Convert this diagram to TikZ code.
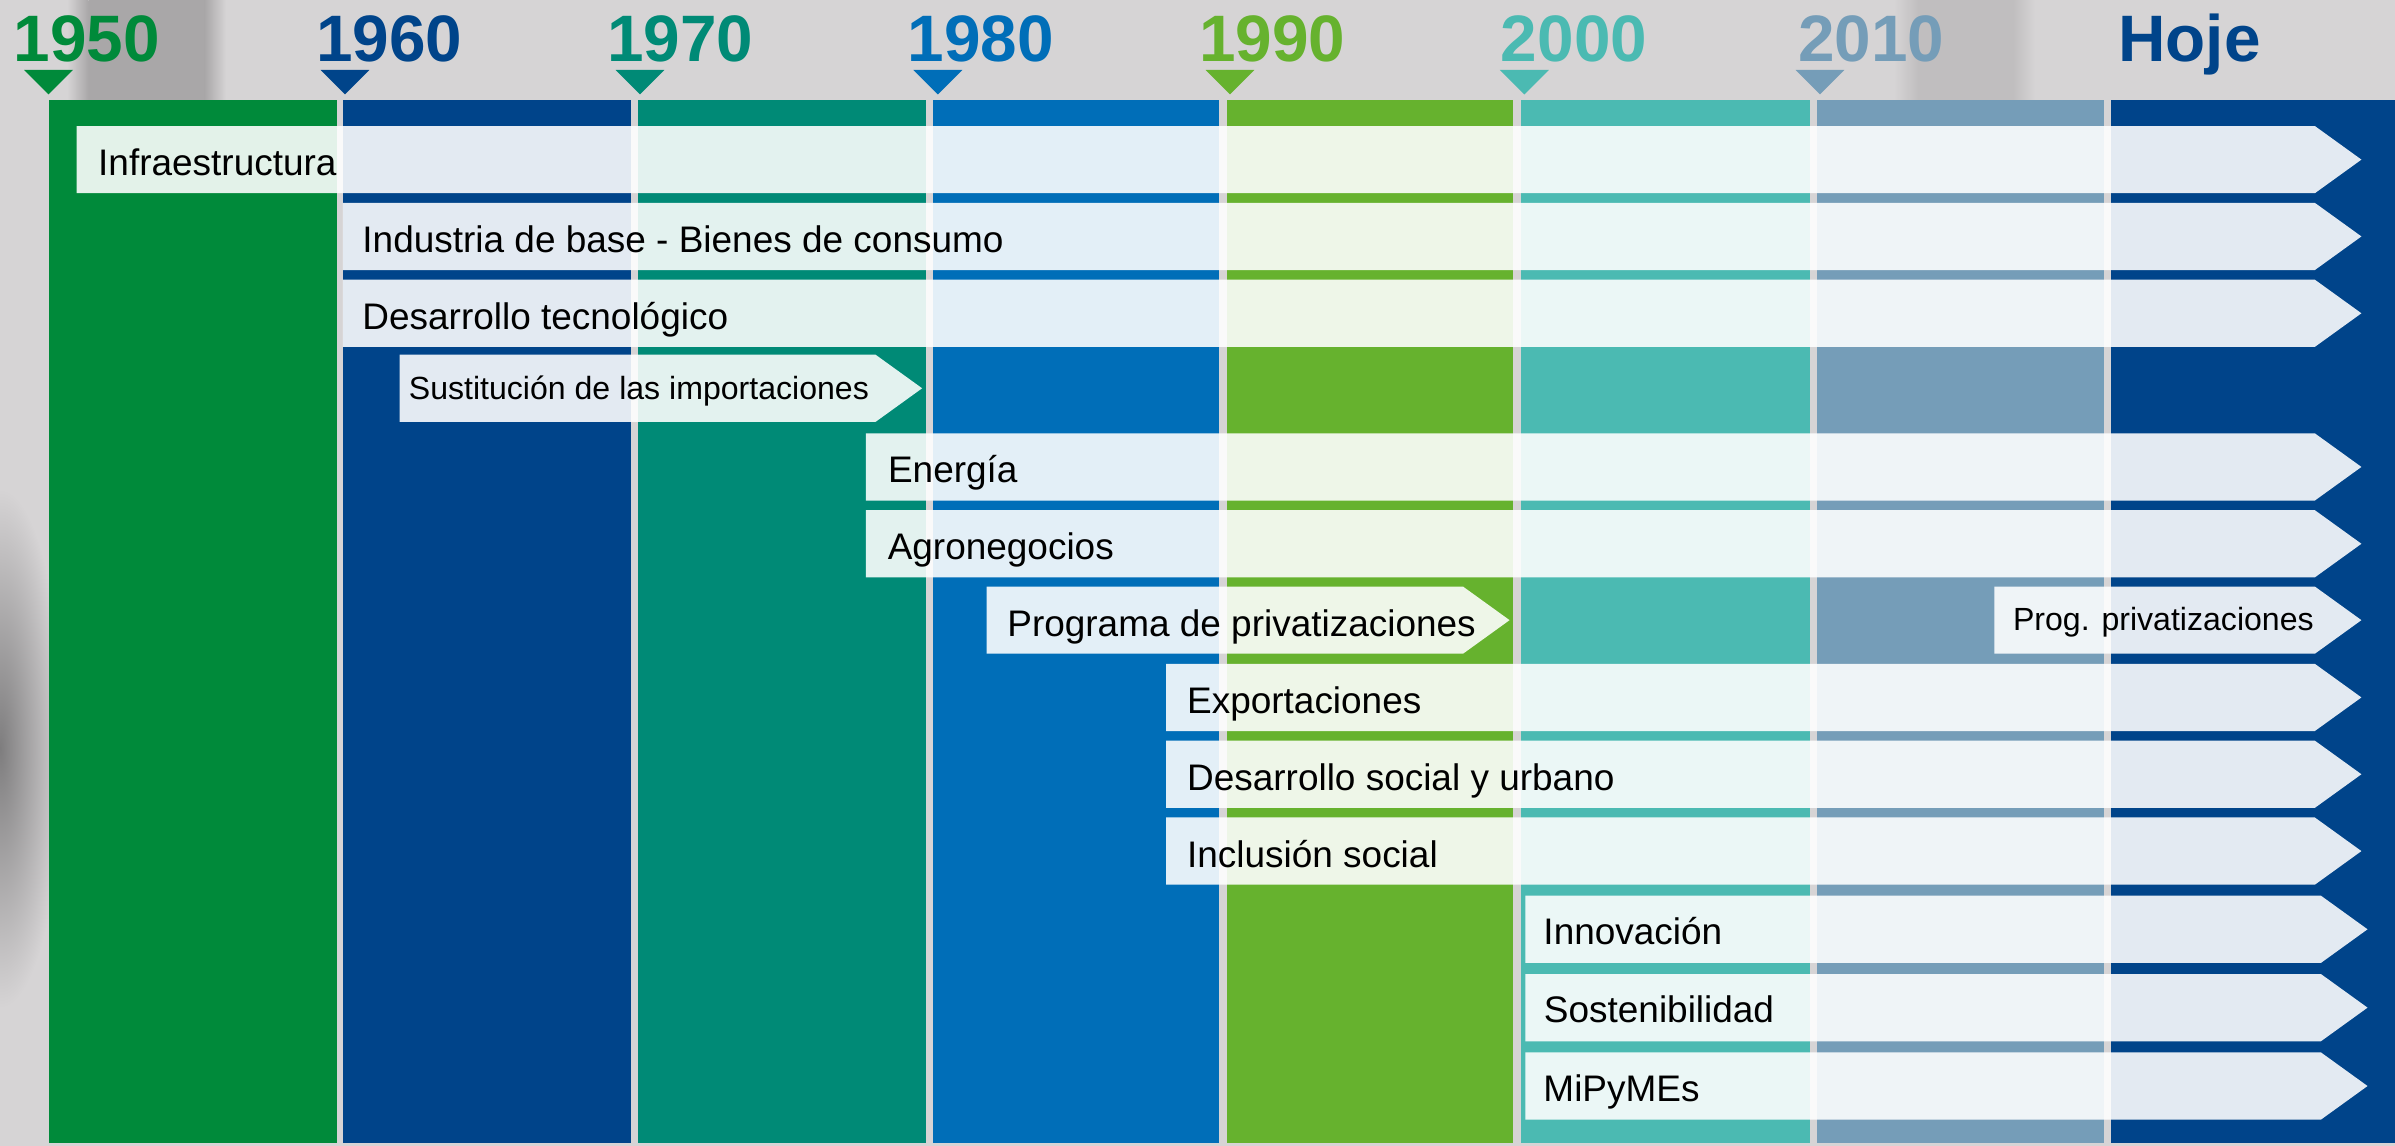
\documentclass[tikz,border=0pt]{standalone}
\usepackage{fontspec}
\setmainfont{Liberation Sans}
\usetikzlibrary{calc}

\definecolor{bggray}{HTML}{D6D4D5}
\definecolor{bgdark}{HTML}{A9A7A8}
\definecolor{bgmid}{HTML}{C0BEBF}
\definecolor{bgdeep}{HTML}{7E7D7E}
\definecolor{c1950}{HTML}{008A3A}
\definecolor{c1960}{HTML}{00448A}
\definecolor{c1970}{HTML}{008A76}
\definecolor{c1980}{HTML}{006EB8}
\definecolor{c1990}{HTML}{66B22E}
\definecolor{c2000}{HTML}{4BBAB2}
\definecolor{c2010}{HTML}{759DB8}

\tikzset{
	tagfill/.style={fill=white, fill opacity=0.89},
	rowtext/.style={anchor=base west, inner sep=0pt, font=\fontsize{24.2}{26}\selectfont},
	smalltext/.style={anchor=base west, inner sep=0pt, font=\fontsize{21}{23}\selectfont},
	yeartext/.style={anchor=base, inner sep=0pt, font=\fontsize{43}{46}\selectfont\bfseries}
}
\def\tagarrow(#1:#2:#3){\fill[tagfill] (#1,#2) -- ({#3-30.5},#2) -- (#3,{#2+22}) -- ({#3-30.5},{#2+44}) -- (#1,{#2+44}) -- cycle;}
\def\yearmark(#1:#2){\fill[#2] ({#1-16},45.8) -- ({#1+16},45.8) -- (#1,61.8) -- cycle;}

\begin{document}
\begin{tikzpicture}[x=1pt, y=-1pt]
		%%%%% START %%%%%
		\useasboundingbox (0,0) rectangle (1568,750);
		\fill[bggray] (0,0) rectangle (1568,750);
		
		% blurred photo behind
		\shade[left color=bggray, right color=bgdark] (44,0) rectangle (58,65.5);
		\fill[bgdark] (58,0) rectangle (134,65.5);
		\shade[left color=bgdark, right color=bggray] (134,0) rectangle (148,65.5);
		\shade[left color=bggray, right color=bgmid] (1240,0) rectangle (1256,65.5);
		\fill[bgmid] (1256,0) rectangle (1318,65.5);
		\shade[left color=bgmid, right color=bggray] (1318,0) rectangle (1332,65.5);
		\shade[inner color=bgdeep, outer color=bggray] (0,490) ellipse (42 and 170);
		
		% decades
		\fill[c1950] (32, 65.5) rectangle (220.5, 748);
		\fill[c1960] (224.5, 65.5) rectangle (413.3, 748);
		\fill[c1970] (417.7, 65.5) rectangle (606, 748);
		\fill[c1980] (610.5, 65.5) rectangle (798.2, 748);
		\fill[c1990] (803, 65.5) rectangle (990.7, 748);
		\fill[c2000] (995.7, 65.5) rectangle (1184.8, 748);
		\fill[c2010] (1189.5, 65.5) rectangle (1377.5, 748);
		\fill[c1960] (1382, 65.5) rectangle (1568, 748);
		
		\yearmark(31.8:c1950);
		\yearmark(225.9:c1960);
		\yearmark(419:c1970);
		\yearmark(614:c1980);
		\yearmark(805.3:c1990);
		\yearmark(998:c2000);
		\yearmark(1191.5:c2010);
		
		\node[yeartext, text=c1950] (y1950) at (56.9, 40.4) {1950};
		\node[yeartext, text=c1960] (y1960) at (254.8, 40.4) {1960};
		\node[yeartext, text=c1970] (y1970) at (445.3, 40.4) {1970};
		\node[yeartext, text=c1980] (y1980) at (642.2, 40.4) {1980};
		\node[yeartext, text=c1990] (y1990) at (833, 40.4) {1990};
		\node[yeartext, text=c2000] (y2000) at (1030.5, 40.4) {2000};
		\node[yeartext, text=c2010] (y2010) at (1225, 40.4) {2010};
		\node[yeartext, text=c1960] (hoje) at (1433.5, 40.4) {Hoje};
		
		% themes
		\tagarrow(50.1:82.5:1546);
		\tagarrow(224.5:132.8:1546);
		\tagarrow(224.5:183.1:1546);
		\tagarrow(261.6:232.2:603.7);
		\tagarrow(566.8:283.7:1546);
		\tagarrow(566.8:334:1546);
		\tagarrow(646:384:988.3);
		\tagarrow(1305.7:384:1546);
		\tagarrow(763.5:434.6:1546);
		\tagarrow(763.5:484.9:1546);
		\tagarrow(763.5:535.2:1546);
		\tagarrow(998.6:586.4:1550);
		\tagarrow(998.6:637.7:1550);
		\tagarrow(998.6:689:1550);
		
		\node[rowtext] (infra) at (64.1, 115) {Infraestructura};
		\node[rowtext] (industria) at (237.1, 165.3) {Industria de base - Bienes de consumo};
		\node[rowtext] (tecno) at (237.1, 215.6) {Desarrollo tecnológico};
		\node[smalltext] (sustitucion) at (267.5, 261.3) {Sustitución de las importaciones};
		\node[rowtext] (energia) at (581.2, 316.2) {Energía};
		\node[rowtext] (agro) at (581, 366.5) {Agronegocios};
		\node[rowtext] (privat) at (659.3, 416.5) {Programa de privatizaciones};
		\node[smalltext] (progpriv) at (1317.7, 413) {Prog. privatizaciones};
		\node[rowtext] (export) at (777, 467.1) {Exportaciones};
		\node[rowtext] (social) at (777, 517.4) {Desarrollo social y urbano};
		\node[rowtext] (inclusion) at (777, 567.7) {Inclusión social};
		\node[rowtext] (innova) at (1010.3, 618.4) {Innovación};
		\node[rowtext] (sosten) at (1010.6, 669.7) {Sostenibilidad};
		\node[rowtext] (mipymes) at (1010.3, 721) {MiPyMEs};
		
		%%%%% END %%%%%
\end{tikzpicture}
\end{document}
